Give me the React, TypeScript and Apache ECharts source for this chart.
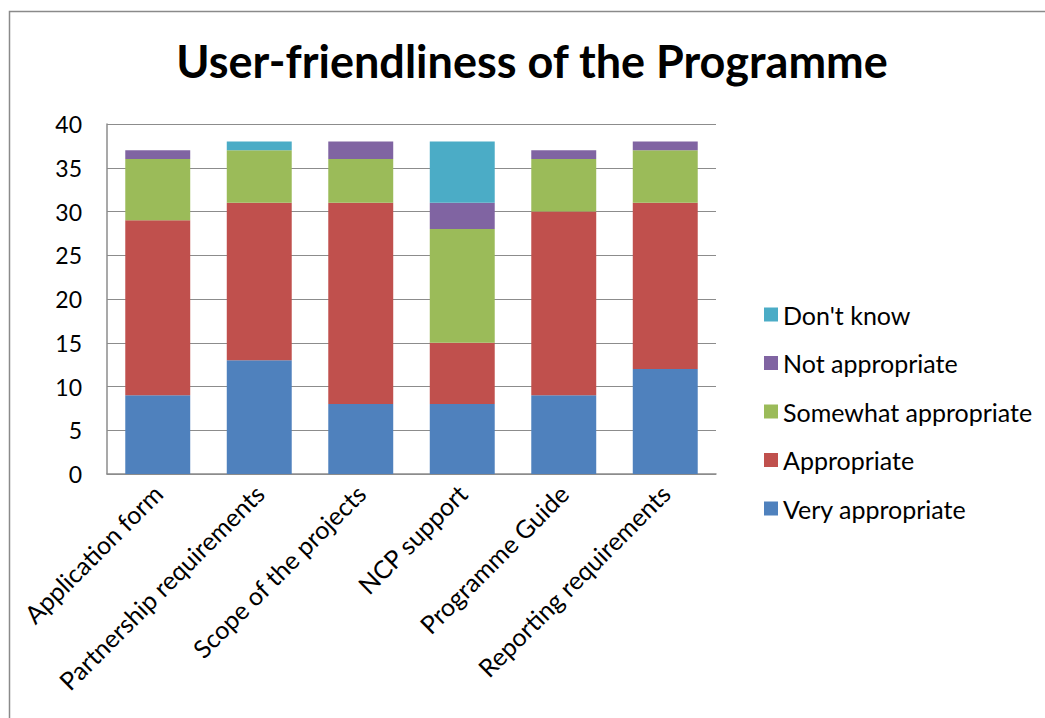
import React, { useEffect, useRef } from "react";
import * as echarts from "echarts";

const categories = [
  "Application form",
  "Partnership requirements",
  "Scope of the projects",
  "NCP support",
  "Programme Guide",
  "Reporting requirements",
];
const veryAppropriate = [9, 13, 8, 8, 9, 12];
const appropriate = [20, 18, 23, 7, 21, 19];
const somewhatAppropriate = [7, 6, 5, 13, 6, 6];
const notAppropriate = [1, 0, 2, 3, 1, 1];
const dontKnow = [0, 1, 0, 7, 0, 0];
const legendOrder = ["Don't know", "Not appropriate", "Somewhat appropriate", "Appropriate", "Very appropriate"];

const FONT = "Lato";

export default function App() {
  const ref = useRef<HTMLDivElement>(null);
  useEffect(() => {
    const chart = echarts.init(ref.current!, null, { renderer: "svg" });
    const mk = (name: string, data: number[], color: string) => ({
      name,
      type: "bar",
      stack: "total",
      barWidth: "64%",
      data,
      itemStyle: { color },
    });
    chart.setOption({
      animation: false,
      backgroundColor: "#ffffff",
      textStyle: { fontFamily: FONT },
      title: {
        text: "User-friendliness of the Programme",
        left: 527,
        textAlign: "center",
        top: 33,
        textStyle: { fontFamily: FONT, fontWeight: "bold", fontSize: 45, color: "#000" },
      },
      graphic: [
        {
          type: "rect",
          shape: { x: 9.5, y: 11.5, width: 1100, height: 800 },
          style: { fill: "none", stroke: "#8a8a8a", lineWidth: 1.5 },
          silent: true,
        },
      ],
      legend: {
        orient: "vertical",
        left: 759,
        top: 297,
        itemWidth: 14,
        itemHeight: 14,
        itemGap: 23.5,
        icon: "rect",
        data: legendOrder,
        textStyle: { fontFamily: FONT, fontSize: 25, color: "#000", lineHeight: 24.5 },
      },
      grid: { left: 107, right: 329, top: 124, bottom: 244, containLabel: false },
      xAxis: {
        type: "category",
        data: categories,
        axisLine: { show: true, lineStyle: { color: "#8c8c8c", width: 1.5 } },
        axisTick: { show: false },
        axisLabel: {
          rotate: 45,
          interval: 0,
          margin: 15,
          fontFamily: FONT,
          fontSize: 25,
          color: "#000",
        },
      },
      yAxis: {
        type: "value",
        min: 0,
        max: 40,
        interval: 5,
        axisLine: { show: true, lineStyle: { color: "#8c8c8c", width: 1.5 } },
        axisTick: { show: false },
        splitLine: { show: true, lineStyle: { color: "#8c8c8c", width: 1.2 } },
        axisLabel: { fontFamily: FONT, fontSize: 23, color: "#000", margin: 25 },
      },
      series: [
        mk("Very appropriate", veryAppropriate, "#4F81BD"),
        mk("Appropriate", appropriate, "#C0504D"),
        mk("Somewhat appropriate", somewhatAppropriate, "#9BBB59"),
        mk("Not appropriate", notAppropriate, "#8064A2"),
        mk("Don't know", dontKnow, "#4BACC6"),
      ],
    });
    return () => chart.dispose();
  }, []);
  return (
    <div
      ref={ref}
      style={{ position: "absolute", left: 0, top: 0, width: 1045, height: 718 }}
    />
  );
}
